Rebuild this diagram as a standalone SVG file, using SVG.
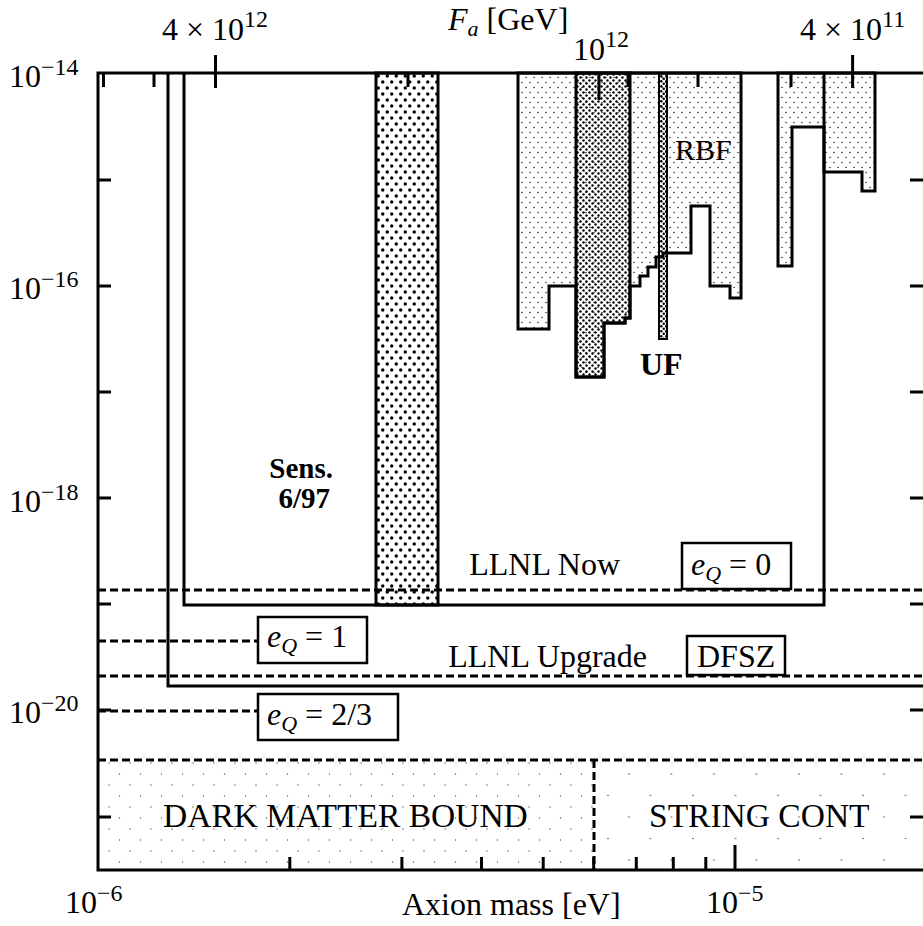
<svg xmlns="http://www.w3.org/2000/svg" width="923" height="926" viewBox="0 0 923 926">
<defs>
<style>
text{font-family:"Liberation Serif","Times New Roman",serif;fill:#000}
.t{font-size:32px}
.n{font-size:32px}
.b{font-weight:bold}
.ln{fill:none;stroke:#000;stroke-width:3}
.fl{stroke:#000;stroke-width:3}
.dash{fill:none;stroke:#000;stroke-width:3;stroke-dasharray:8 4}
.tk{stroke:#000;stroke-width:3}
.box{fill:#fff;stroke:#000;stroke-width:2.5}
</style>
<pattern id="light" width="8" height="10" patternUnits="userSpaceOnUse"><circle cx="2" cy="2.5" r="0.8" fill="#333"/><circle cx="6" cy="7.5" r="0.8" fill="#333"/></pattern>
<pattern id="sens" width="9" height="12" patternUnits="userSpaceOnUse" x="376" y="73"><circle cx="2.25" cy="3" r="1.7" fill="#000"/><circle cx="6.75" cy="9" r="1.7" fill="#000"/></pattern>
<pattern id="ufp" width="6" height="6" patternUnits="userSpaceOnUse" x="576" y="73"><circle cx="1.5" cy="1.5" r="1.2" fill="#000"/><circle cx="4.5" cy="4.5" r="1.2" fill="#000"/></pattern>
<pattern id="dense" width="5" height="5" patternUnits="userSpaceOnUse"><circle cx="1.25" cy="1.25" r="1.25" fill="#000"/><circle cx="3.75" cy="3.75" r="1.25" fill="#000"/></pattern>
<pattern id="dm" width="21" height="22" patternUnits="userSpaceOnUse" x="108" y="762"><circle cx="1" cy="1" r="0.7" fill="#555"/><circle cx="11.5" cy="12" r="0.7" fill="#555"/></pattern>
<pattern id="str" width="42.5" height="43" patternUnits="userSpaceOnUse" x="607" y="773"><circle cx="22" cy="1" r="0.8" fill="#555"/><circle cx="1" cy="22.5" r="0.8" fill="#555"/></pattern>
</defs>
<rect width="923" height="926" fill="#fff"/>

<g id="dark-matter-bound">
<rect x="98" y="760" width="496" height="110" fill="url(#dm)"/>
<text class="t" x="163" y="827" style="font-size:33.5px">DARK MATTER BOUND</text>
</g>
<g id="string-cont">
<rect x="594" y="760" width="329" height="110" fill="url(#str)"/>
<text class="t" x="649" y="827" style="font-size:33.5px">STRING CONT</text>
</g>

<g id="rbf">
<path d="M518,73 V329 H549 V286 H576 V377 H604 V323 H625 V318 H630 V286 H640 V276 H648 V267 H656 V257 H663 V253 H691 V206 H710 V286 H730 V298 H741 V73 Z" fill="url(#light)" class="fl"/>
<path d="M778,73 V266 H792 V127 H824 V172 H862 V191 H875 V73 Z" fill="url(#light)" class="fl"/>
<text class="t" x="675" y="160" style="font-size:30px">RBF</text>
</g>

<g id="uf">
<path d="M576,73 V377 H604 V323 H625 V318 H630 V73 Z" fill="url(#ufp)" class="fl"/>
<rect x="659" y="73" width="8" height="266" fill="url(#dense)" stroke="#000" stroke-width="2"/>
<text class="t b" x="640" y="375">UF</text>
</g>

<g id="sens">
<rect x="376" y="73" width="62" height="532" fill="url(#sens)" stroke="#000" stroke-width="3"/>
<text class="b" x="333" y="478" text-anchor="end" style="font-size:29px">Sens.</text>
<text class="b" x="330" y="508" text-anchor="end" style="font-size:29px">6/97</text>
</g>

<g id="connectors">
<path class="ln" d="M184,73 V605 H824 V73"/>
<path class="ln" d="M168,73 V686 H923"/>
<path class="dash" d="M98,590 H923"/>
<path class="dash" d="M98,641 H258"/>
<path class="dash" d="M98,676 H923"/>
<path class="dash" d="M98,711 H258"/>
<path class="dash" d="M98,760 H923"/>
<path class="dash" d="M594,760 V870"/>
</g>

<g id="llnl-now">
<text class="t" x="620" y="575" text-anchor="end">LLNL Now</text>
</g>
<g id="llnl-upgrade">
<text class="t" x="647" y="667" text-anchor="end">LLNL Upgrade</text>
</g>

<g id="eq0">
<rect class="box" x="682" y="543" width="109" height="46"/>
<text class="t" x="691" y="575"><tspan font-style="italic">e</tspan><tspan font-style="italic" font-size="22" dy="6">Q</tspan><tspan dy="-6"> = 0</tspan></text>
</g>
<g id="dfsz">
<rect class="box" x="687" y="636" width="98" height="39"/>
<text class="t" x="697" y="667">DFSZ</text>
</g>
<g id="eq1">
<rect class="box" x="258" y="617" width="109" height="46"/>
<text class="t" x="267" y="647"><tspan font-style="italic">e</tspan><tspan font-style="italic" font-size="22" dy="6">Q</tspan><tspan dy="-6"> = 1</tspan></text>
</g>
<g id="eq23">
<rect class="box" x="258" y="694" width="140" height="46"/>
<text class="t" x="267" y="725"><tspan font-style="italic">e</tspan><tspan font-style="italic" font-size="22" dy="6">Q</tspan><tspan dy="-6"> = 2/3</tspan></text>
</g>

<g id="axes">
<path class="ln" d="M923,73 H98 V870 H923"/>
<path class="tk" d="M98,180 H111 M98,286 H111 M98,392 H111 M98,498 H111 M98,604 H111 M98,710 H111 M98,817 H111"/>
<path class="tk" d="M910,180 H923 M910,286 H923 M910,392 H923 M910,498 H923 M910,604 H923 M910,710 H923 M910,817 H923"/>
<path class="tk" d="M289.8,870 V857 M401.9,870 V857 M481.5,870 V857 M543.2,870 V857 M593.7,870 V857 M636.3,870 V857 M673.3,870 V857 M705.8,870 V857 M735,870 V845"/>
<path class="tk" d="M103.5,73 V87 M154,73 V87 M408,73 V87 M628,73 V87 M698,73 V87 M791,73 V87 M215.5,55 V88 M852.6,55 V88 M599,73 V100"/>
<text class="n" x="9" y="87">10<tspan font-size="24" dy="-12">−14</tspan></text>
<text class="n" x="9" y="299">10<tspan font-size="24" dy="-12">−16</tspan></text>
<text class="n" x="9" y="512">10<tspan font-size="24" dy="-12">−18</tspan></text>
<text class="n" x="9" y="723">10<tspan font-size="24" dy="-12">−20</tspan></text>
<text class="n" x="65" y="913">10<tspan font-size="24" dy="-12">−6</tspan></text>
<text class="n" x="706" y="913">10<tspan font-size="24" dy="-12">−5</tspan></text>
<text class="t" x="402" y="915">Axion mass [eV]</text>
<text class="n" x="162" y="40">4 × 10<tspan font-size="24" dy="-13">12</tspan></text>
<text class="n" x="800" y="40">4 × 10<tspan font-size="24" dy="-13">11</tspan></text>
<text class="n" x="573" y="60">10<tspan font-size="24" dy="-13">12</tspan></text>
<text class="n" x="448" y="30"><tspan font-style="italic">F</tspan><tspan font-style="italic" font-size="22" dy="6">a</tspan><tspan dy="-6"> [GeV]</tspan></text>
</g>
</svg>
